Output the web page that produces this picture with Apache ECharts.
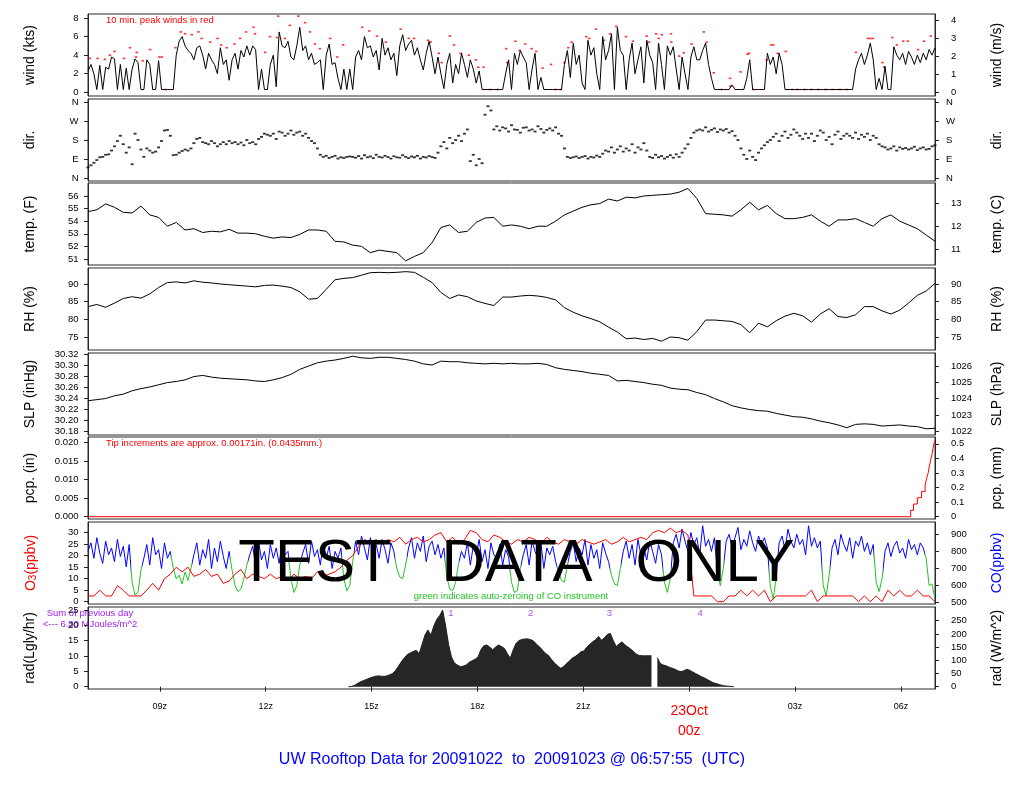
<!DOCTYPE html>
<html><head><meta charset="utf-8">
<script src="https://cdn.jsdelivr.net/npm/echarts@6/dist/echarts.min.js"></script>
<style>html,body{margin:0;padding:0;background:#fff}#c{width:1024px;height:800px}</style>
</head><body><div id="c"></div>
<script>
// ---------------- DATA ----------------
// time axis: UTC hours counted from 22 Oct 00z
const T0 = 6.965, T1 = 30.965;
const xTicks = [9, 12, 15, 18, 21, 24, 27, 30];
const xTickLabels = ['09z', '12z', '15z', '18z', '21z', '23Oct\n00z', '03z', '06z'];

// wind speed (kts), 5-min steps from start
const windKts = [
2.3,3.0,2.0,0.3,2.9,0.3,2.7,2.5,3.8,3.6,0.3,3.0,
0.3,2.6,0.3,2.5,3.6,3.2,0.3,0.3,3.5,3.0,0.3,0.3,
3.4,0.3,0.3,0.3,0.3,0.3,4.0,5.5,6.0,5.0,4.5,4.2,
3.5,4.8,5.0,4.0,2.5,4.2,3.5,3.0,2.0,4.8,3.0,3.5,
1.3,3.5,4.2,2.5,4.5,3.8,5.0,4.0,5.0,4.6,0.3,2.5,
0.3,0.3,3.0,4.0,0.6,6.5,5.0,4.8,5.5,3.8,3.5,5.0,
7.0,4.5,5.0,3.5,4.2,3.0,3.2,3.5,0.3,4.0,5.2,3.0,
3.2,1.5,0.3,2.5,0.3,2.5,0.3,3.8,4.5,3.5,6.0,4.8,
5.0,3.8,4.5,2.4,5.8,4.0,4.8,3.5,4.2,1.8,5.0,6.2,
4.5,5.2,5.6,4.0,4.8,3.5,2.4,4.2,5.5,3.8,2.0,3.8,
2.0,0.4,3.0,4.2,1.0,3.0,2.0,4.2,3.0,1.6,3.5,2.5,
1.0,2.3,0.3,0.3,0.3,0.3,0.3,0.3,0.3,0.3,2.0,3.5,
0.3,4.2,3.0,4.5,3.8,3.2,0.3,2.5,4.2,0.3,1.6,0.3,
0.3,0.3,0.3,0.3,0.3,0.3,3.0,4.5,1.6,5.3,3.0,4.0,
1.0,0.3,5.6,4.0,4.8,2.0,0.3,6.0,3.5,4.5,6.3,0.3,
7.0,4.5,4.0,0.3,3.5,5.3,2.0,3.5,4.9,1.0,5.6,4.0,
3.2,0.3,5.3,3.0,0.3,5.0,4.0,4.9,2.5,0.3,3.8,2.0,
0.3,3.8,4.9,3.5,3.5,4.5,5.3,3.0,1.5,0.3,0.3,0.3,
0.3,0.3,0.3,0.8,0.3,0.3,0.3,0.3,1.5,3.5,0.3,0.3,
0.3,0.3,0.3,4.2,3.0,3.8,2.0,4.2,3.0,0.3,0.3,0.3,
0.3,0.3,0.3,0.3,0.3,0.3,0.3,0.3,0.3,0.3,0.3,0.3,
0.3,0.3,0.3,0.3,0.3,0.3,0.3,0.3,0.3,2.5,3.5,4.2,
3.0,4.0,5.3,3.5,0.3,1.5,0.3,2.8,0.3,0.3,4.9,4.0,
3.5,4.2,3.0,4.4,3.8,3.0,4.0,3.2,4.2,3.5,4.6,4.0,
4.8];

// 10-min peak winds (hours after start, kts)
const peakOffsetHours = [0.05,0.27,0.48,0.62,0.75,1.02,1.19,1.36,1.38,1.55,1.76,2.02,2.09,2.2,2.48,2.63,2.75,2.94,3.13,3.22,3.46,3.67,3.77,3.93,4.15,4.31,4.48,4.69,4.73,5.02,5.16,5.35,5.39,5.58,5.72,5.96,6.15,6.29,6.43,6.57,6.86,7.06,7.23,
7.77,7.97,8.19,8.44,8.86,9.09,9.24,9.63,9.71,9.94,10.02,10.25,10.37,10.56,10.79,10.99,11.06,11.21,11.4,11.6,11.85,11.88,12.11,12.23,12.39,12.57,12.7,12.88,13.12,13.25,13.4,13.5,13.61,13.7,14.12,14.2,14.39,14.62,14.79,14.97,15.24,15.44,15.83,15.9,16.1,16.17,16.26,16.52,16.53,16.75,16.88,17.1,17.45,17.53,17.73,17.95,18.19,18.2,18.49,18.69,18.73,18.85,19.23,19.36,19.42,19.54,19.77,19.95,20.1,20.3,20.5,20.7,20.9,21.1,21.3,21.5,21.76,22.1,22.17,22.24,22.51,22.56,22.79,22.92,23.1,23.23,23.52,23.69,23.88];
const peakKts = [3.65,3.65,3.55,4.0,4.4,3.65,4.8,3.8,4.3,3.4,4.6,3.8,3.8,0.3,4.8,6.5,6.3,6.2,6.5,5.8,5.4,5.8,5.1,4.8,5.2,5.8,6.5,7.0,6.3,4.3,6.0,5.9,8.2,5.8,7.2,8.2,7.5,6.5,5.2,4.7,5.8,3.8,5.1,
7.0,6.6,6.05,5.4,6.8,5.8,5.8,5.6,5.4,4.2,3.2,6.05,5.1,4.2,4.0,3.5,2.7,2.7,0.3,0.3,4.7,3.2,5.5,4.5,5.2,4.7,4.4,2.6,3.0,0.3,0.3,3.2,4.8,5.4,6.0,5.8,6.8,5.6,6.3,7.1,6.0,5.5,6.05,5.4,6.3,5.8,6.2,6.3,5.4,3.9,4.25,5.2,6.5,5.4,2.1,0.3,1.5,0.65,2.2,4.1,4.2,0.3,3.5,5.1,5.1,4.2,4.4,0.3,0.3,0.3,0.3,0.3,0.3,0.3,0.3,0.3,4.3,5.8,5.8,5.8,3.2,2.7,5.9,5.1,5.5,5.5,4.6,5.5,6.05];

// wind direction (degrees), 5-min steps
const dirDeg = [
50,60,72,85,98,100,110,112,130,150,175,200,160,120,145,65,210,180,135,100,
140,130,120,125,145,175,225,228,200,108,110,120,128,135,130,140,165,185,190,170,
165,160,175,165,150,160,170,160,175,165,170,160,168,155,180,165,170,160,185,195,
210,205,200,210,185,220,215,200,210,225,205,215,220,200,210,190,175,165,140,110,
100,105,95,100,105,92,98,95,100,102,
100,96,104,92,108,98,102,94,110,100,97,105,99,92,103,98,96,108,100,94,102,98,105,92,100,97,104,99,95,
120,150,170,140,190,165,180,200,175,210,230,
80,110,60,90,70,
300,340,320,
230,245,225,240,235,220,250,230,228,215,238,240,225,230,220,245,232,215,228,235,225,240,210,200,
140,100,95,
98,102,95,100,104,92,100,97,106,100,
115,130,125,145,120,135,150,125,140,130,160,120,145,135,165,130,
100,95,110,98,104,92,100,108,96,112,100,120,
140,160,190,215,225,
230,225,240,220,228,235,218,230,225,232,215,222,200,180,
140,110,90,130,100,85,120,140,155,170,
180,195,210,175,200,220,190,205,230,215,200,185,210,
190,210,175,200,225,215,180,195,160,205,220,185,200,210,
200,190,215,185,205,195,210,180,200,190,
160,150,145,135,140,150,130,145,138,142,135,140,148,132,140,145,135,138,150,155];

// temperature (F), 15-min steps
const tempF = [54.76,54.9,55.37,55.1,54.7,54.65,55.2,54.5,54.3,53.6,53.9,53.3,53.4,53.1,53.2,53.15,53.35,53.05,53.05,53.0,
52.8,52.65,52.75,52.7,52.95,53.3,53.3,53.2,52.4,52.35,52.1,52.0,51.5,51.7,51.6,51.5,50.85,51.2,51.5,52.3,
53.5,53.7,53.1,53.2,53.9,54.25,54.3,53.6,53.7,53.6,53.4,53.6,53.6,54.0,54.5,54.8,55.1,55.3,55.4,55.75,
55.6,55.9,55.85,56.0,56.05,56.1,56.15,56.3,56.6,55.8,54.6,54.55,54.5,54.4,54.9,55.5,54.9,55.25,54.6,54.2,
54.2,54.3,54.5,54.0,53.6,54.1,54.1,54.2,53.9,53.6,54.2,54.5,54.0,53.7,53.4,52.9,52.4];

// relative humidity (%), 15-min steps
const rhPct = [83.6,84.2,83.4,84.6,85.9,86.4,86.0,87.2,89.0,90.4,90.6,90.3,90.9,90.5,90.3,90.0,89.8,89.6,89.4,89.2,
89.6,89.7,89.4,89.0,87.8,85.7,85.9,88.5,91.2,91.6,91.8,92.5,93.2,93.3,93.2,93.3,93.5,93.3,91.9,90.4,
87.6,85.9,86.9,86.4,85.2,84.5,83.9,86.3,86.3,86.6,86.8,86.6,86.2,85.5,83.3,82.0,81.0,80.2,79.3,77.8,
76.4,74.5,74.7,74.3,74.6,73.8,75.0,74.8,74.1,76.5,79.8,79.8,79.6,79.4,78.5,76.2,78.9,77.9,79.6,80.9,
81.7,81.0,79.2,81.5,83.0,80.8,80.5,81.3,83.6,83.6,82.4,81.5,82.6,84.6,86.8,88.0,90.2];

// sea level pressure (inHg), 15-min steps
const slpInHg = [30.235,30.237,30.239,30.244,30.247,30.253,30.257,30.260,30.264,30.268,30.270,30.273,30.279,30.281,30.278,30.276,30.275,30.274,30.273,30.271,
30.270,30.273,30.277,30.283,30.292,30.298,30.304,30.307,30.309,30.312,30.316,30.313,30.312,30.314,30.314,30.312,30.310,30.307,30.302,30.300,
30.307,30.306,30.306,30.304,30.303,30.302,30.303,30.302,30.303,30.302,30.302,30.303,30.301,30.295,30.292,30.290,30.288,30.285,30.283,30.281,
30.271,30.272,30.270,30.268,30.265,30.263,30.258,30.256,30.255,30.250,30.246,30.239,30.233,30.226,30.222,30.219,30.217,30.216,30.212,30.209,
30.206,30.205,30.202,30.198,30.195,30.191,30.186,30.192,30.193,30.192,30.189,30.190,30.191,30.189,30.188,30.184,30.185];

// rain gauge tips (hours after start); each tip = 0.00171 in
const pcpTipOffsetHours = [23.31,23.39,23.50,23.62,23.72,23.76,23.81,23.84,23.88,23.92,23.95,23.99];
const pcpTipIn = 0.00171;

// ozone (ppbv), 10-min steps
const o3Ppbv = [2.5,2.5,5,2.5,2.5,7,5,2.5,2.5,2.5,
5,8,5,10,12,15,13,15,11,12,
14,11,12,8,9,12,14,10,12,11,
10,12,10,11,9,12,10,11,10,13,
11,12,13,15,18,20,24,27,26,27,
25,27,26,28,25,27,28,26,27,29,
30,26,28,25,27,31,30,27,26,29,
28,26,25,27,26,28,27,25,28,26,
25,27,26,25,27,26,25,26,27,25,
26,28,26,27,28,27,30,31,30,32,
30,31,29,2.5,2.5,2.5,2.5,0,0,2.5,
2.5,5,2.5,5,2.5,5,0,2.5,2.5,2.5,
2.5,2.5,2.5,5,0,2.5,2.5,2.5,2.5,2.5,
2.5,0,2.5,0,2.5,0,5,2.5,5,2.5,
2.5,5,2.5,2.5,0];

// carbon monoxide (ppbv), 5-min steps
const coPpbv = [
800,850,760,880,790,730,860,780,820,740,870,770,830,710,840,
620,545,560,690,
760,840,720,880,780,810,700,850,760,800,
700,640,660,610,680,630,700,
780,850,720,810,760,870,700,820,740,860,770,700,800,
690,600,565,580,640,720,
780,830,720,860,750,800,700,840,760,820,730,850,780,800,
640,560,600,720,
790,840,730,860,770,810,720,850,760,830,700,800,760,820,
640,570,600,740,
860,780,890,820,750,880,800,840,760,870,810,730,850,800,
700,650,640,720,
820,880,760,850,800,890,740,830,860,780,840,760,820,
650,580,570,620,730,
800,760,850,720,830,780,870,740,810,700,850,780,760,840,720,810,770,
620,560,570,700,
780,840,720,860,800,760,850,700,820,780,830,740,
680,630,620,720,
800,850,740,820,780,870,720,840,760,810,700,850,790,740,
660,610,600,700,
800,860,760,840,720,870,780,820,750,860,800,730,840,780,
620,560,640,
850,900,820,930,860,800,910,840,880,780,950,830,870,800,880,
680,600,700,
860,900,820,880,940,810,870,830,920,850,800,890,840,880,820,
600,520,650,
850,890,810,930,860,820,900,840,870,780,950,830,880,820,860,
600,540,660,
820,870,780,900,840,800,880,760,860,830,890,800,850,780,840,
620,565,640,
800,850,770,830,860,790,820,760,870,810,840,780,850,820,
760,600,610,520];
// CO instrument auto-zeroing periods (UTC hours)
const coZeroStart = [8.17,9.33,11.0,12.67,14.17,15.67,17.08,18.92,20.25,21.75,23.25,24.75,26.25,27.75,29.25,30.67];
const coZeroEnd   = [8.49,9.91,11.49,12.99,14.49,15.99,17.49,19.24,20.57,22.07,23.49,24.99,26.49,27.99,29.49,30.97];

// solar radiation (W/m^2), 5-min steps starting 7.383 h after start (null = missing record)
const radStartOffset = 7.383;
const radWm2 = [0,1,5,12,18,23,27,32,36,39,41,40,39,41,45,50,62,78,95,110,
122,128,133,138,125,160,196,215,195,230,255,270,290,230,160,112,90,82,76,78,
82,92,98,104,112,140,155,158,150,140,150,158,152,145,125,108,140,165,175,179,
181,181,178,172,160,150,138,126,118,103,90,80,70,75,86,96,108,114,122,132,
135,150,160,170,178,190,176,185,198,202,175,152,162,170,158,150,142,132,122,118,
117,117,117,117,null,110,88,82,79,74,70,66,60,57,60,66,62,56,50,44,
38,33,27,21,15,12,8,5,3,2,1,0];
const radMarkerHours = [17.25, 19.51, 21.74, 24.31];
const radMarkerLabels = ['1', '2', '3', '4'];

// ---------------- CHART ----------------
const FONT = '"Liberation Sans", Arial, Helvetica, sans-serif';
const tops = [14, 99, 183, 268, 353, 437, 522, 607];
const H = 82;
const dirName = v => ({0:'N',90:'E',180:'S',270:'W',360:'N'})[Math.round(v)];

const axesSpec = [
  {l:{min:-0.398,max:8.431,ticks:[0,2,4,6,8]}, r:{min:-0.205,max:4.337,ticks:[0,1,2,3,4]},
   ln:'wind (kts)', rn:'wind (m/s)'},
  {l:{min:-14.4,max:374.4,ticks:[0,90,180,270,360],fmt:dirName},
   r:{min:-14.4,max:374.4,ticks:[0,90,180,270,360],fmt:dirName,margin:11},
   ln:'dir.', rn:'dir.'},
  {l:{min:50.52,max:57.03,ticks:[51,52,53,54,55,56]}, r:{min:10.289,max:13.906,ticks:[11,12,13]},
   ln:'temp. (F)', rn:'temp. (C)'},
  {l:{min:71.32,max:94.53,ticks:[75,80,85,90]}, r:{min:71.32,max:94.53,ticks:[75,80,85,90]},
   ln:'RH (%)', rn:'RH (%)'},
  {l:{min:30.1727,max:30.3218,ticks:[30.18,30.20,30.22,30.24,30.26,30.28,30.30,30.32],fmt:v=>v.toFixed(2)},
   r:{min:1021.765,max:1026.814,ticks:[1022,1023,1024,1025,1026]},
   ln:'SLP (inHg)', rn:'SLP (hPa)'},
  {l:{min:-0.000622,max:0.02154,ticks:[0,0.005,0.01,0.015,0.02],fmt:v=>v.toFixed(3)},
   r:{min:-0.0158,max:0.5471,ticks:[0,0.1,0.2,0.3,0.4,0.5],fmt:v=>v===0?'0':v.toFixed(1)},
   ln:'pcp. (in)', rn:'pcp. (mm)'},
  {l:{min:-1.0,max:34.65,ticks:[0,5,10,15,20,25,30]}, r:{min:492.4,max:971.9,ticks:[500,600,700,800,900]},
   ln:'O3', rn:'CO(ppbv)'},
  {l:{min:-0.75,max:25.96,ticks:[0,5,10,15,20,25]}, r:{min:-8.7,max:301.9,ticks:[0,50,100,150,200,250]},
   ln:'rad(Lgly/hr)', rn:'rad (W/m^2)'}
];

const grids = [], xAxes = [], yAxes = [];
tops.forEach((t, i) => {
  grids.push({left:88, right:89, top:t, height:H, show:true, borderColor:'#2a2a2a', borderWidth:1, backgroundColor:'transparent'});
  if (i < 7) {
    xAxes.push({type:'value', gridIndex:i, min:T0, max:T1, show:false});
  } else {
    xAxes.push({type:'value', gridIndex:i, min:T0, max:T1,
      axisLine:{show:false}, splitLine:{show:false},
      axisTick:{show:true, customValues:xTicks, length:5, lineStyle:{color:'#222'}},
      axisLabel:{show:true, customValues:xTicks, margin:12, fontFamily:FONT, color:'#000',
        formatter: v => {
          const s = xTickLabels[xTicks.indexOf(Math.round(v))] || '';
          return s.indexOf('\n') >= 0 ? s.split('\n').map(p => '{r|' + p + '}').join('\n') : '{n|' + s + '}';
        },
        rich:{n:{fontSize:9,lineHeight:12,fontFamily:FONT,color:'#000'}, r:{fontSize:14,lineHeight:20,fontFamily:FONT,color:'#ff0000'}}}
    });
  }
  const spec = axesSpec[i];
  ['l','r'].forEach(side => {
    const a = spec[side];
    yAxes.push({type:'value', gridIndex:i, position: side === 'l' ? 'left' : 'right', min:a.min, max:a.max,
      axisLine:{show:true, lineStyle:{color:'#2a2a2a'}}, splitLine:{show:false},
      axisTick:{show:true, customValues:a.ticks, length:4, lineStyle:{color:'#222'}},
      axisLabel:{show:true, customValues:a.ticks, fontSize:9.5, fontFamily:FONT, color:'#000',
        margin: a.margin || (side === 'l' ? 9.5 : 16), formatter: a.fmt || (v => String(v))}
    });
  });
});

const yl = i => 2 * i, yr = i => 2 * i + 1;
const step = (arr, off, dt) => arr.map((v, i) => [T0 + off + i * dt, v]);

const pcpData = [[T0, 0]];
pcpTipOffsetHours.forEach((h, k) => pcpData.push([T0 + h, (k + 1) * pcpTipIn]));
pcpData.push([T1, pcpTipOffsetHours.length * pcpTipIn]);

const series = [
  {type:'line', xAxisIndex:0, yAxisIndex:yl(0), data:step(windKts, 0, 1/12), symbol:'none', lineStyle:{color:'#000', width:1}},
  {type:'scatter', xAxisIndex:0, yAxisIndex:yl(0), data:peakOffsetHours.map((h, i) => [T0 + h, peakKts[i]]), symbol:'rect', symbolSize:[2.5, 1.6], itemStyle:{color:'#ff0000'}},
  {type:'scatter', xAxisIndex:1, yAxisIndex:yl(1), data:step(dirDeg, 0, 1/12), symbol:'rect', symbolSize:[3, 1.8], itemStyle:{color:'#000'}},
  {type:'line', xAxisIndex:2, yAxisIndex:yl(2), data:step(tempF, 0, 0.25), symbol:'none', lineStyle:{color:'#000', width:1}},
  {type:'line', xAxisIndex:3, yAxisIndex:yl(3), data:step(rhPct, 0, 0.25), symbol:'none', lineStyle:{color:'#000', width:1}},
  {type:'line', xAxisIndex:4, yAxisIndex:yl(4), data:step(slpInHg, 0, 0.25), symbol:'none', lineStyle:{color:'#000', width:1}},
  {type:'line', xAxisIndex:5, yAxisIndex:yl(5), data:pcpData, step:'end', symbol:'none', lineStyle:{color:'#ff0000', width:1}},
  {type:'line', xAxisIndex:6, yAxisIndex:yr(6), data:step(coPpbv, 0, 1/12), symbol:'none', lineStyle:{width:1}, z:2},
  {type:'line', xAxisIndex:6, yAxisIndex:yl(6), data:step(o3Ppbv, 0, 1/6), symbol:'none', lineStyle:{color:'#ff0000', width:1}, z:3},
  {type:'line', xAxisIndex:7, yAxisIndex:yr(7), data:step(radWm2, radStartOffset, 1/12), symbol:'none', connectNulls:false,
    lineStyle:{color:'#1e1e1e', width:1}, areaStyle:{color:'#262626', opacity:1, origin:'auto'}},
  {type:'scatter', xAxisIndex:7, yAxisIndex:yr(7), data:radMarkerHours.map((h, i) => [h, 279, radMarkerLabels[i]]), symbolSize:0,
    label:{show:true, position:'inside', formatter:p => p.value[2], color:'#a020f0', fontSize:9.5, fontFamily:FONT}}
];

const visualMap = [{type:'piecewise', show:false, dimension:0, seriesIndex:7,
  pieces: coZeroStart.map((s, i) => ({gte:s, lte:coZeroEnd[i], color:'#22c322'})),
  outOfRange:{color:'#0000ff'}}];

const mid = tops.map(t => t + H / 2);
const titleFont = '14px ' + FONT;
const vtext = (x, y, text, color) => ({type:'text', x:x, y:y, rotation:Math.PI / 2,
  style:{text:text, font:titleFont, fill:color || '#000', textAlign:'center', textVerticalAlign:'middle'}});
const graphics = [];
axesSpec.forEach((s, i) => {
  if (s.ln !== 'O3') graphics.push(vtext(30, mid[i], s.ln));
  graphics.push(vtext(997, mid[i], s.rn, i === 6 ? '#0000ff' : '#000'));
});
graphics.push({type:'text', x:30, y:mid[6], rotation:Math.PI / 2,
  style:{text:'{a|O}{b|3}{a|(ppbv)}', textAlign:'center', textVerticalAlign:'middle', fill:'#ff0000',
    rich:{a:{fontSize:14, fontFamily:FONT, fill:'#ff0000', verticalAlign:'bottom', lineHeight:16},
          b:{fontSize:10, fontFamily:FONT, fill:'#ff0000', verticalAlign:'bottom', lineHeight:10}}}});
const small = (x, y, text, color, align) => ({type:'text', x:x, y:y,
  style:{text:text, font:'9.5px ' + FONT, fill:color, textAlign:align || 'left', textVerticalAlign:'middle'}});
graphics.push(small(106, 20, '10 min. peak winds in red', '#ff0000'));
graphics.push(small(106, 443.5, 'Tip increments are approx. 0.00171in. (0.0435mm.)', '#ff0000'));
graphics.push(small(511, 596.5, 'green indicates auto-zeroing of CO instrument', '#22c322', 'center'));
graphics.push(small(90, 613.5, 'Sum of previous day', '#a020f0', 'center'));
graphics.push(small(90, 624.5, '<--- 6.30 MJoules/m^2', '#a020f0', 'center'));
const big = (x, text) => ({type:'text', x:x, y:564, z:100,
  style:{text:text, font:'60px ' + FONT, fill:'#000', textAlign:'center', textVerticalAlign:'middle'}});
graphics.push(big(315, 'TEST'), big(517, 'DATA'), big(715, 'ONLY'));
graphics.push({type:'text', x:512, y:760,
  style:{text:'UW Rooftop Data for 20091022  to  20091023 @ 06:57:55  (UTC)', font:'16px ' + FONT, fill:'#0000ff', textAlign:'center', textVerticalAlign:'middle'}});

const chart = echarts.init(document.getElementById('c'), null, {renderer:'canvas', width:1024, height:800});
chart.setOption({
  animation:false,
  backgroundColor:'#ffffff',
  textStyle:{fontFamily:FONT},
  grid:grids, xAxis:xAxes, yAxis:yAxes, series:series, visualMap:visualMap, graphic:graphics
});
</script>
</body></html>
